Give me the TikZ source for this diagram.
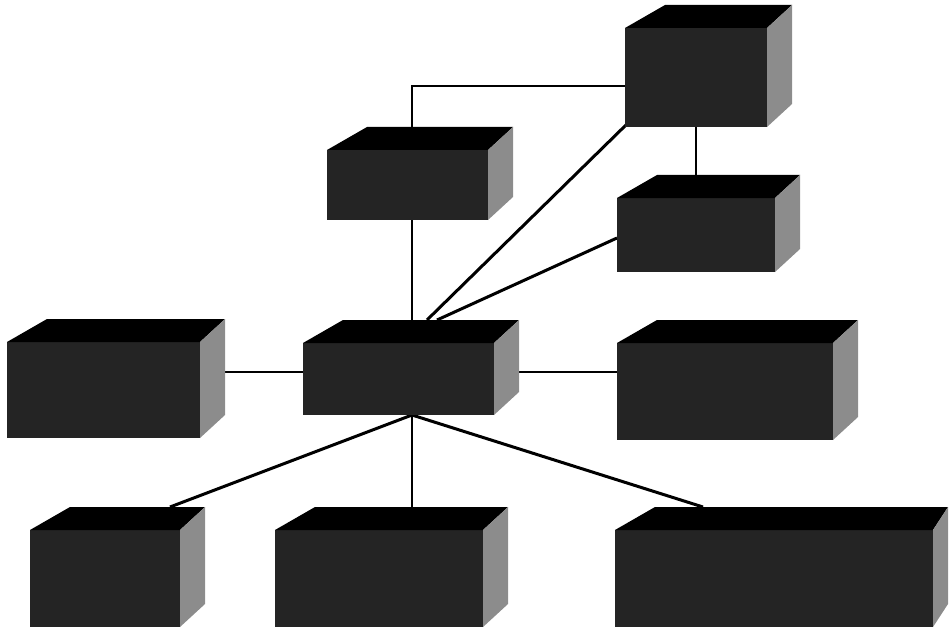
\documentclass[tikz,border=0pt]{standalone}
\usepackage{tikz}
\usetikzlibrary{fit,backgrounds,calc}

% one block: front face as a node, then its top and right side
\newcommand{\blok}[4][25]{%
  \node[front, fit={(#3) (#4)}] (#2) {};
  \fill[topside] (#2.north west) -- ++(40,-23) -- ([shift={(#1,-23)}]#2.north east) -- (#2.north east) -- cycle;
  \fill[rside] (#2.north east) -- ++(#1,-23) -- ([shift={(#1,-23)}]#2.south east) -- (#2.south east) -- cycle;
}

\begin{document}
\begin{tikzpicture}[x=1pt,y=-1pt,
    front/.style={fill=black!86, inner sep=0pt, outer sep=0pt},
    topside/.style={fill=black},
    rside/.style={fill=black!45},
    link/.style={draw=black, line width=2pt},
    thick link/.style={link, line width=3pt}]
  \useasboundingbox (0,0) rectangle (952,631);

  \blok{C}{625,28}{767,127}
  \blok{D}{327,150}{488,220}
  \blok{E}{617,198}{775,272}
  \blok{A}{7,342}{200,438}
  \blok{B}{303,343}{494,415}
  \blok{F}{617,343}{833,440}
  \blok{G}{30,530}{180,627}
  \blok{H}{275,530}{483,627}
  \blok[15]{I}{615,530}{933,627}

  \coordinate (hub) at ([xshift=13.5pt]B.south);

  \begin{scope}[on background layer]
    % upper part
    \draw[link] ([xshift=4.5pt]D.north) |- ([yshift=-8.5pt]C.west);
    \draw[link] ([xshift=4.5pt]D.south) -- ([xshift=4.5pt]D.south |- B.north);
    \draw[link] (C.south) -- (E.north);
    \draw[thick link] ([shift={(3,-4)}]C.south west) -- ([shift={(28.5,-23)}]B.north);
    \draw[thick link] ([yshift=-3pt]E.west) -- ([shift={(38.5,-23)}]B.north);
    % middle row
    \draw[link] ([yshift=18pt]A.east) -- ([yshift=18pt]A.east -| B.west);
    \draw[link] ([yshift=7pt]B.east) -- ([yshift=7pt]B.east -| F.west);
    % lower part
    \draw[thick link] (hub) -- ([shift={(-10,-23)}]G.north east);
    \draw[link] (hub) -- (hub |- H.north);
    \draw[thick link] (hub) -- ([shift={(88,-23)}]I.north west);
  \end{scope}
\end{tikzpicture}
\end{document}
